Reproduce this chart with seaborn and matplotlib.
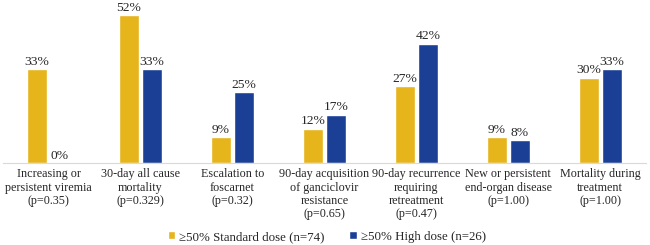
import matplotlib
matplotlib.use("Agg")
import matplotlib.pyplot as plt
import seaborn as sns
import pandas as pd

# dati
categories = [
    "Increasing or\npersistent viremia\n(p=0.35)",
    "30-day all cause\nmortality\n(p=0.329)",
    "Escalation to\nfoscarnet\n(p=0.32)",
    "90-day acquisition\nof ganciclovir\nresistance\n(p=0.65)",
    "90-day recurrence\nrequiring\nretreatment\n(p=0.47)",
    "New or persistent\nend-organ disease\n(p=1.00)",
    "Mortality during\ntreatment\n(p=1.00)",
]
standard_dose = [33, 52, 9, 12, 27, 9, 30]
high_dose = [0, 33, 25, 17, 42, 8, 33]
series_names = ["\u226550% Standard dose (n=74)", "\u226550% High dose (n=26)"]
colors = ["#E6B41B", "#1C3F96"]

df = pd.DataFrame({
    "category": categories * 2,
    "value": standard_dose + high_dose,
    "group": [series_names[0]] * len(categories) + [series_names[1]] * len(categories),
})

sns.set_style("white")
plt.rcParams["font.family"] = ["Liberation Serif", "DejaVu Serif"]

fig = plt.figure(figsize=(6.5, 2.45), dpi=100)
ax = fig.add_axes([0.004, 0.335, 0.99, 0.637])

sns.barplot(data=df, x="category", y="value", hue="group", palette=colors,
            width=0.5, gap=0.13, ax=ax, saturation=1, legend=True)

for cont in ax.containers:
    ax.bar_label(cont, labels=[f"{v:.0f}%" for v in cont.datavalues],
                 padding=1, fontsize=9.7, clip_on=False)

ax.set_ylim(0, 55)
ax.set_xlim(-0.5, 6.5)
ax.set_xlabel("")
ax.set_ylabel("")
ax.set_yticks([])
ax.tick_params(axis="x", length=0, pad=4, labelsize=8.7)
for lab in ax.get_xticklabels():
    lab.set_linespacing(1.12)
sns.despine(ax=ax, left=True)
ax.spines["bottom"].set_color("#d9d9d9")

handles, labels = ax.get_legend_handles_labels()
ax.get_legend().remove()
fig.legend(handles, labels, loc="center", bbox_to_anchor=(0.503, 0.033), ncol=2,
           frameon=False, fontsize=9.3, handlelength=0.6, handleheight=0.6,
           handletextpad=0.3, columnspacing=1.9, borderpad=0)

fig.savefig("out.png", dpi=100)
